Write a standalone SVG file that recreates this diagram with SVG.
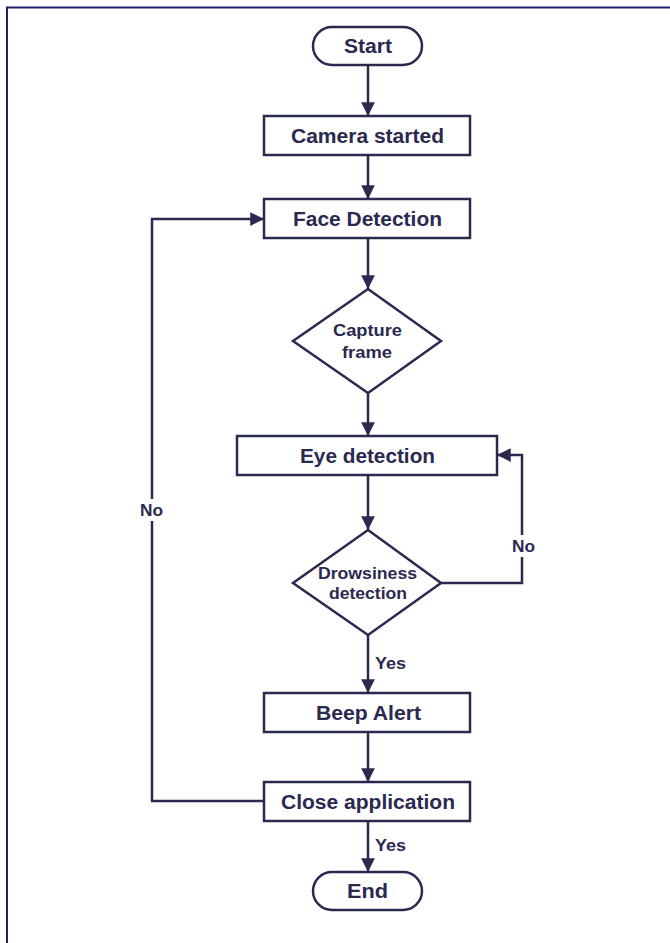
<svg xmlns="http://www.w3.org/2000/svg" width="670" height="943" viewBox="0 0 670 943">
<defs>
<marker id="arr" viewBox="0 0 10 10" refX="10" refY="5" markerWidth="5.5" markerHeight="5.5" orient="auto" markerUnits="strokeWidth">
<path d="M0,0 L10,5 L0,10 z" fill="#2b2950"/>
</marker>
<style>
.shape{fill:#ffffff;stroke:#2b2950;stroke-width:2.5}
.conn{fill:none;stroke:#2b2950;stroke-width:2.5;marker-end:url(#arr)}
.t{font-family:"Liberation Sans",Arial,sans-serif;font-weight:bold;font-size:20px;fill:#2b2950;text-anchor:middle;dominant-baseline:central}
.s{font-family:"Liberation Sans",Arial,sans-serif;font-weight:bold;font-size:16px;fill:#2b2950;text-anchor:middle;dominant-baseline:central}
.l{font-family:"Liberation Sans",Arial,sans-serif;font-weight:bold;font-size:16px;fill:#2b2950;dominant-baseline:central}
</style>
</defs>
<rect width="670" height="943" fill="#ffffff"/>
<path d="M7,943 L7,7.5 L670,7.5" fill="none" stroke="#1f1f6e" stroke-width="2"/>
<g id="connectors">
<line class="conn" x1="368" y1="65" x2="368" y2="116"/>
<line class="conn" x1="368" y1="155" x2="368" y2="199"/>
<line class="conn" x1="368" y1="238" x2="368" y2="289"/>
<line class="conn" x1="368" y1="393" x2="368" y2="436"/>
<line class="conn" x1="368" y1="475" x2="368" y2="530"/>
<line class="conn" x1="368" y1="635" x2="368" y2="693"/>
<line class="conn" x1="368" y1="732" x2="368" y2="782"/>
<line class="conn" x1="368" y1="821" x2="368" y2="872"/>
<polyline class="conn" points="441,583 522,583 522,455 497,455"/>
<polyline class="conn" points="264,801 152,801 152,219 264,219"/>
<rect x="136" y="499" width="32" height="22" fill="#ffffff"/>
<rect x="508" y="535" width="32" height="22" fill="#ffffff"/>
<text class="l" x="140" y="510" textLength="23" lengthAdjust="spacingAndGlyphs">No</text>
<text class="l" x="512" y="546" textLength="23" lengthAdjust="spacingAndGlyphs">No</text>
<text class="l" x="375" y="663" textLength="31" lengthAdjust="spacingAndGlyphs">Yes</text>
<text class="l" x="375" y="845" textLength="31" lengthAdjust="spacingAndGlyphs">Yes</text>
</g>
<g id="start"><rect class="shape" x="313" y="27" width="109" height="38" rx="19"/><text class="t" x="368" y="46" textLength="48" lengthAdjust="spacingAndGlyphs">Start</text></g>
<g id="camera"><rect class="shape" x="264" y="116" width="206" height="39"/><text class="t" x="367.5" y="135.5" textLength="153" lengthAdjust="spacingAndGlyphs">Camera started</text></g>
<g id="face"><rect class="shape" x="264" y="199" width="206" height="39"/><text class="t" x="367.5" y="218.5" textLength="149" lengthAdjust="spacingAndGlyphs">Face Detection</text></g>
<g id="capture"><polygon class="shape" points="368,289 441,341 368,393 293,341"/><text class="s" x="367.5" y="330" textLength="69" lengthAdjust="spacingAndGlyphs">Capture</text><text class="s" x="367" y="352" textLength="50" lengthAdjust="spacingAndGlyphs">frame</text></g>
<g id="eye"><rect class="shape" x="237" y="436" width="260" height="39"/><text class="t" x="367.5" y="455.5" textLength="135" lengthAdjust="spacingAndGlyphs">Eye detection</text></g>
<g id="drowsy"><polygon class="shape" points="368,530 441,583 368,635 293,583"/><text class="s" x="367.5" y="573" textLength="99" lengthAdjust="spacingAndGlyphs">Drowsiness</text><text class="s" x="368" y="593" textLength="78" lengthAdjust="spacingAndGlyphs">detection</text></g>
<g id="beep"><rect class="shape" x="264" y="693" width="206" height="39"/><text class="t" x="368.5" y="712.5" textLength="105" lengthAdjust="spacingAndGlyphs">Beep Alert</text></g>
<g id="close"><rect class="shape" x="264" y="782" width="206" height="39"/><text class="t" x="368" y="801.5" textLength="174" lengthAdjust="spacingAndGlyphs">Close application</text></g>
<g id="end"><rect class="shape" x="313" y="872" width="109" height="38" rx="19"/><text class="t" x="367.5" y="891" textLength="41" lengthAdjust="spacingAndGlyphs">End</text></g>
</svg>
